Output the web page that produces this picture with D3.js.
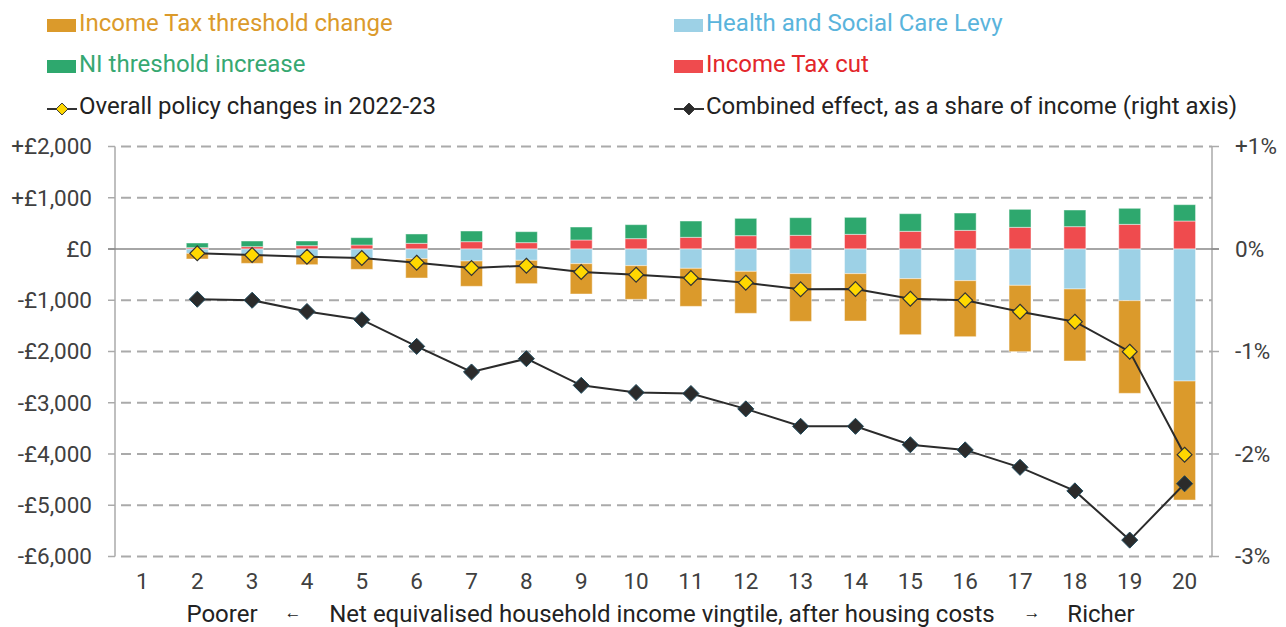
<!DOCTYPE html>
<html>
  <head>
    <meta charset="utf-8" />
    <title>Policy changes by income vingtile</title>
    <script src="https://d3js.org/d3.v7.min.js"></script>
    <style>
      body {
        margin: 0;
        background: #fff;
      }
      svg {
        display: block;
        font-family: Roboto, "Noto Sans", sans-serif;
      }
    </style>
  </head>
  <body>
    <svg id="chart"></svg>
    <script>
      // data, vingtiles 2..20 (vingtile 1 has no values)
      const tickLabels = ["1", "2", "3", "4", "5", "6", "7", "8", "9", "10",
        "11", "12", "13", "14", "15", "16", "17", "18", "19", "20"];
      const vingtiles = ["2", "3", "4", "5", "6", "7", "8", "9", "10", "11",
        "12", "13", "14", "15", "16", "17", "18", "19", "20"];

      const niThreshold = [91, 110, 91, 143, 182, 208, 214, 253, 273, 318, 338, 344, 332, 344, 338, 351, 325, 313, 319];
      const incomeTaxCut = [26, 46, 65, 78, 111, 143, 124, 176, 202, 228, 260, 267, 286, 345, 364, 423, 436, 481, 546];
      const healthLevy = [-85, -117, -150, -182, -189, -234, -221, -286, -325, -377, -436, -481, -481, -579, -618, -709, -780, -1008, -2576];
      const taxThreshold = [-110, -163, -156, -215, -377, -494, -455, -592, -657, -742, -819, -930, -924, -1093, -1093, -1294, -1405, -1808, -2322];

      const overall = [-85, -117, -150, -175, -267, -371, -325, -449, -501, -566, -657, -787, -780, -969, -1002, -1223, -1418, -2003, -4013];
      const shareOfIncome = [-0.49, -0.50, -0.61, -0.69, -0.95, -1.20, -1.07, -1.33, -1.40, -1.41, -1.56, -1.73, -1.73, -1.91, -1.96, -2.13, -2.36, -2.84, -2.29];

      const leftTicks = [2000, 1000, 0, -1000, -2000, -3000, -4000, -5000, -6000];
      const rightTicks = [1, 0, -1, -2, -3];

      const seriesKeys = ["cut", "ni", "levy", "threshold"];
      const colors = {
        threshold: "#DB9A2B",
        levy: "#9DD1E6",
        ni: "#2EA86E",
        cut: "#EF4B4E"
      };

      const width = 1286, height = 627;
      const plotLeft = 115, plotRight = 1212, plotTop = 146.5, plotBottom = 556.5;

      const svg = d3.select("#chart").attr("width", width).attr("height", height);

      const x = d3.scaleBand().domain(tickLabels).range([plotLeft, plotRight])
        .paddingInner(0.6).paddingOuter(0.3);
      const y = d3.scaleLinear().domain([-6000, 2000]).range([plotBottom, plotTop]);
      const y2 = d3.scaleLinear().domain([-3, 1]).range([plotBottom, plotTop]);

      // gridlines
      svg.append("g")
        .selectAll("line")
        .data(leftTicks.filter(d => d !== 0))
        .join("line")
        .attr("x1", plotLeft)
        .attr("x2", plotRight)
        .attr("y1", d => y(d))
        .attr("y2", d => y(d))
        .attr("stroke", "#aaa")
        .attr("stroke-width", 1.8)
        .attr("stroke-dasharray", "10,6")
        .attr("stroke-dashoffset", -6);

      // tick stubs on both sides
      svg.append("g")
        .selectAll("line")
        .data(leftTicks)
        .join("line")
        .attr("x1", plotLeft - 7)
        .attr("x2", plotLeft)
        .attr("y1", d => y(d))
        .attr("y2", d => y(d))
        .attr("stroke", "#aaa")
        .attr("stroke-width", 1.5);
      svg.append("g")
        .selectAll("line")
        .data(rightTicks)
        .join("line")
        .attr("x1", plotRight)
        .attr("x2", plotRight + 7)
        .attr("y1", d => y2(d))
        .attr("y2", d => y2(d))
        .attr("stroke", "#aaa")
        .attr("stroke-width", 1.5);

      // axes lines
      svg.append("line")
        .attr("x1", plotLeft).attr("x2", plotLeft)
        .attr("y1", plotTop).attr("y2", plotBottom)
        .attr("stroke", "#aaa").attr("stroke-width", 1.5);
      svg.append("line")
        .attr("x1", plotRight).attr("x2", plotRight)
        .attr("y1", plotTop).attr("y2", plotBottom)
        .attr("stroke", "#aaa").attr("stroke-width", 1.5);

      // zero line
      svg.append("line")
        .attr("x1", plotLeft - 7).attr("x2", plotRight + 7)
        .attr("y1", y(0)).attr("y2", y(0))
        .attr("stroke", "#888").attr("stroke-width", 1.3);

      // stacked bars
      const rows = vingtiles.map((v, i) => ({
        v,
        cut: incomeTaxCut[i],
        ni: niThreshold[i],
        levy: healthLevy[i],
        threshold: taxThreshold[i]
      }));
      const stacked = d3.stack().keys(seriesKeys).offset(d3.stackOffsetDiverging)(rows);

      svg.append("g")
        .selectAll("g")
        .data(stacked)
        .join("g")
        .attr("fill", d => colors[d.key])
        .selectAll("rect")
        .data(d => d)
        .join("rect")
        .attr("x", d => x(d.data.v))
        .attr("width", x.bandwidth())
        .attr("y", d => y(Math.max(d[0], d[1])))
        .attr("height", d => Math.abs(y(d[0]) - y(d[1])))
        .attr("stroke", "#fff")
        .attr("stroke-opacity", 0.45)
        .attr("stroke-width", 1);

      const cx = v => x(v) + x.bandwidth() / 2;
      const diamond = d3.symbol().type(d3.symbolDiamond2);

      // overall policy changes
      svg.append("path")
        .datum(overall)
        .attr("fill", "none")
        .attr("stroke", "#2b2b2b")
        .attr("stroke-width", 2)
        .attr("d", d3.line().x((d, i) => cx(vingtiles[i])).y(d => y(d)));

      svg.append("g")
        .selectAll("path")
        .data(overall)
        .join("path")
        .attr("transform", (d, i) => `translate(${cx(vingtiles[i])},${y(d)})`)
        .attr("d", diamond.size(140))
        .attr("fill", "#FFD800")
        .attr("stroke", "#333")
        .attr("stroke-width", 1.2);

      // combined effect as share of income (right axis)
      svg.append("path")
        .datum(shareOfIncome)
        .attr("fill", "none")
        .attr("stroke", "#2b2b2b")
        .attr("stroke-width", 2)
        .attr("d", d3.line().x((d, i) => cx(vingtiles[i])).y(d => y2(d)));

      svg.append("g")
        .selectAll("path")
        .data(shareOfIncome)
        .join("path")
        .attr("transform", (d, i) => `translate(${cx(vingtiles[i])},${y2(d)})`)
        .attr("d", diamond.size(165))
        .attr("fill", "#2b2b2b")
        .attr("stroke", "#1f4a5c")
        .attr("stroke-width", 1);

      // axis labels
      const fmtLeft = d => (d > 0 ? "+" : d < 0 ? "-" : "") + "£" + d3.format(",")(Math.abs(d));
      svg.append("g")
        .selectAll("text")
        .data(leftTicks)
        .join("text")
        .attr("x", 92)
        .attr("y", d => y(d))
        .attr("dy", "0.35em")
        .attr("text-anchor", "end")
        .attr("fill", "#404040")
        .style("font-size", "22.5px")
        .text(fmtLeft);

      svg.append("g")
        .selectAll("text")
        .data(rightTicks)
        .join("text")
        .attr("x", 1235)
        .attr("y", d => y2(d))
        .attr("dy", "0.35em")
        .attr("fill", "#404040")
        .style("font-size", "22.5px")
        .text(d => (d > 0 ? "+" : d < 0 ? "-" : "") + Math.abs(d) + "%");

      svg.append("g")
        .selectAll("text")
        .data(tickLabels)
        .join("text")
        .attr("x", d => cx(d))
        .attr("y", 589)
        .attr("text-anchor", "middle")
        .attr("fill", "#404040")
        .style("font-size", "22.5px")
        .text(d => d);

      // x axis title
      const titleParts = [
        { text: "Poorer", x: 222, size: 24 },
        { text: "←", x: 293, size: 17 },
        { text: "Net equivalised household income vingtile, after housing costs", x: 662, size: 24 },
        { text: "→", x: 1032, size: 17 },
        { text: "Richer", x: 1101, size: 24 }
      ];
      svg.append("g")
        .selectAll("text")
        .data(titleParts)
        .join("text")
        .attr("x", d => d.x)
        .attr("y", d => (d.size < 20 ? 618 : 622))
        .attr("text-anchor", "middle")
        .attr("fill", "#222")
        .style("font-size", d => d.size + "px")
        .text(d => d.text);

      // legend
      const legendItems = [
        { label: "Income Tax threshold change", key: "threshold", text: "#DB9A2B", x: 47, y: 26 },
        { label: "Health and Social Care Levy", key: "levy", text: "#5AB4DC", x: 674, y: 26 },
        { label: "NI threshold increase", key: "ni", text: "#36A872", x: 47, y: 67 },
        { label: "Income Tax cut", key: "cut", text: "#E3262B", x: 674, y: 67 },
        { label: "Overall policy changes in 2022-23", line: "#FFD800", text: "#222", x: 47, y: 109 },
        { label: "Combined effect, as a share of income (right axis)", line: "#2b2b2b", text: "#222", x: 674, y: 109 }
      ];

      const lg = svg.append("g")
        .selectAll("g")
        .data(legendItems)
        .join("g")
        .attr("transform", d => `translate(${d.x},${d.y})`);

      lg.filter(d => d.key)
        .append("rect")
        .attr("x", 0)
        .attr("y", -7)
        .attr("width", 29)
        .attr("height", 13)
        .attr("fill", d => colors[d.key]);

      const lineItems = lg.filter(d => d.line);
      lineItems.append("line")
        .attr("x1", 0).attr("x2", 30)
        .attr("y1", 0).attr("y2", 0)
        .attr("stroke", "#333").attr("stroke-width", 2);
      lineItems.append("path")
        .attr("transform", "translate(15,0)")
        .attr("d", diamond.size(90))
        .attr("fill", d => d.line)
        .attr("stroke", "#333")
        .attr("stroke-width", 1);

      lg.append("text")
        .attr("x", 32)
        .attr("y", 0)
        .attr("dy", "0.2em")
        .attr("fill", d => d.text)
        .style("font-size", "24px")
        .text(d => d.label);
    </script>
  </body>
</html>
